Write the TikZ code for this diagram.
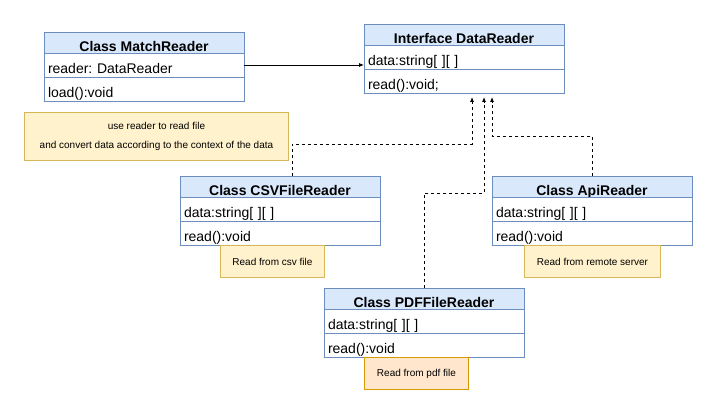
\documentclass[tikz,border=0pt]{standalone}
\usepackage{fontspec}
\setmainfont{Liberation Sans}
\usetikzlibrary{positioning,arrows.meta}
\definecolor{headfill}{HTML}{DAE8FC}
\definecolor{headline}{HTML}{6C8EBF}
\definecolor{notefill}{HTML}{FFF2CC}
\definecolor{noteline}{HTML}{D6B656}
\definecolor{pdffill}{HTML}{FFE6CC}
\definecolor{pdfline}{HTML}{D79B00}
\frenchspacing

\begin{document}
\begin{tikzpicture}[x=1pt, y=-1pt,
	head/.style={draw=headline, fill=headfill, line width=0.9pt, anchor=north west,
		minimum width=200pt, minimum height=21pt, inner sep=0pt, outer sep=0pt,
		text height=17.5pt, text depth=0pt, font=\fontsize{14}{16}\selectfont\bfseries},
	row/.style={draw=headline, fill=white, line width=0.9pt, minimum height=24pt,
		text width=192pt, inner xsep=4pt, inner ysep=0pt, outer sep=0pt, align=left,
		text height=17.5pt, text depth=0pt, font=\fontsize{14}{16}\selectfont},
	note/.style={draw=noteline, fill=notefill, line width=0.9pt, anchor=north west,
		inner sep=0pt, align=center, font=\fontsize{10}{18.5}\selectfont},
	link/.style={line width=0.8pt, -{Latex[length=5pt,width=4pt]}},
	realize/.style={link, dash pattern=on 3pt off 3pt}]
	\useasboundingbox[fill=white] (0,0) rectangle (717,414);

	% classes
	\node[head] (mr-head) at (44,32) {Class MatchReader};
	\node[row, below=0pt of mr-head] (mr-attr) {reader: DataReader};
	\node[row, below=0pt of mr-attr] (mr-meth) {load():void};

	\node[head] (dr-head) at (364,24) {Interface DataReader};
	\node[row, below=0pt of dr-head] (dr-attr) {data:string[ ][ ]};
	\node[row, below=0pt of dr-attr] (dr-meth) {read():void;};

	\node[head] (csv-head) at (180,176) {Class CSVFileReader};
	\node[row, below=0pt of csv-head] (csv-attr) {data:string[ ][ ]};
	\node[row, below=0pt of csv-attr] (csv-meth) {read():void};

	\node[head] (api-head) at (492,176) {Class ApiReader};
	\node[row, below=0pt of api-head] (api-attr) {data:string[ ][ ]};
	\node[row, below=0pt of api-attr] (api-meth) {read():void};

	\node[head] (pdf-head) at (324,288) {Class PDFFileReader};
	\node[row, below=0pt of pdf-head] (pdf-attr) {data:string[ ][ ]};
	\node[row, below=0pt of pdf-attr] (pdf-meth) {read():void};

	% notes
	\node[note, minimum width=264pt, minimum height=48pt] (mr-note) at (24,112)
		{use reader to read file\\and convert data according to the context of the data};
	\node[note, minimum width=104pt, minimum height=32pt] (csv-note) at (220,245) {Read from csv file};
	\node[note, minimum width=136pt, minimum height=32pt] (api-note) at (524,245) {Read from remote server};
	\node[note, draw=pdfline, fill=pdffill, minimum width=104pt, minimum height=32pt] (pdf-note)
		at (364,357) {Read from pdf file};

	% connectors
	\draw[link] (mr-attr.east) -- (mr-attr.east -| dr-head.west);
	\draw[realize] ([xshift=12pt]csv-head.north) -- ++(0,-32) -| ([xshift=8pt,yshift=-4pt]dr-meth.south);
	\draw[realize] (pdf-head.north) -- ++(0,-95) -| ([xshift=20pt,yshift=-4pt]dr-meth.south);
	\draw[realize] (api-head.north) -- ++(0,-40) -| ([xshift=28pt,yshift=-4pt]dr-meth.south);
\end{tikzpicture}
\end{document}
